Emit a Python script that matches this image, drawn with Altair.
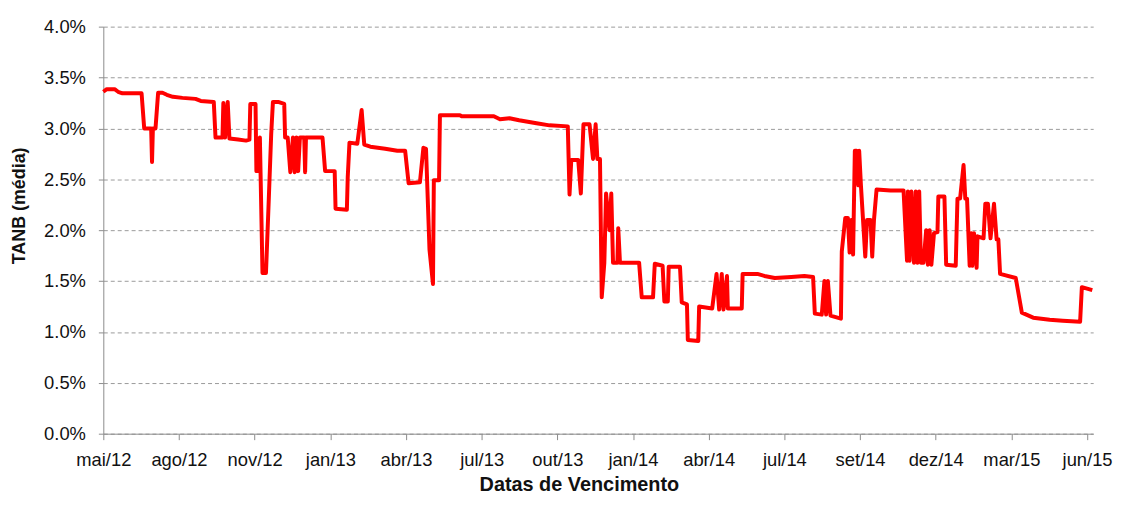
import altair as alt
import pandas as pd

# Data de referência e dias (desde a data de referência) de cada vencimento
data_inicio = "2012-05-12"
dias = [0, 4, 13, 17, 22, 44, 47, 55, 56, 57, 60, 63, 68, 73, 80, 91, 106, 112, 127, 129,
        137, 138, 140, 143, 145, 155, 164, 168, 169, 175, 176, 179, 180, 183, 187, 190, 193, 195, 201, 208,
        209, 212, 215, 218, 220, 222, 224, 226, 231, 232, 233, 252, 255, 266, 267, 280, 281, 283, 292, 297,
        300, 307, 324, 338, 347, 351, 364, 368, 371, 375, 379, 380, 386, 387, 410, 412, 449, 456, 467, 478,
        498, 513, 534, 536, 538, 546, 549, 552, 559, 563, 566, 568, 571, 573, 576, 578, 582, 584, 586, 591,
        592, 594, 610, 616, 619, 632, 634, 643, 645, 649, 650, 663, 665, 671, 672, 684, 685, 700, 705, 708,
        711, 713, 717, 718, 734, 735, 752, 760, 772, 791, 806, 816, 818, 826, 829, 831, 833, 836, 848, 849,
        853, 856, 858, 860, 862, 864, 866, 868, 869, 871, 876, 878, 882, 884, 886, 889, 905, 920, 924, 925,
        927, 929, 932, 934, 936, 938, 940, 943, 946, 948, 950, 952, 955, 959, 960, 967, 969, 980, 981, 982,
        985, 989, 991, 993, 996, 998, 999, 1001, 1004, 1005, 1012, 1014, 1017, 1020, 1024, 1027, 1029, 1031, 1049, 1056,
        1069, 1088, 1103, 1123, 1125, 1137]

# TANB média (%)
taxa = [3.36, 3.385, 3.385, 3.36, 3.345, 3.345, 3.0, 3.0, 2.67, 3.0, 3.0, 3.35, 3.35, 3.33, 3.31, 3.30, 3.29, 3.27, 3.26, 2.91,
        2.91, 3.25, 2.91, 3.26, 2.90, 2.89, 2.88, 2.89, 3.24, 3.24, 2.58, 2.58, 2.91, 1.58, 1.58, 2.25, 2.94, 3.26, 3.26, 3.24,
        2.91, 2.91, 2.57, 2.91, 2.57, 2.91, 2.58, 2.91, 2.91, 2.57, 2.91, 2.91, 2.58, 2.58, 2.21, 2.20, 2.52, 2.86, 2.85, 3.18,
        2.84, 2.82, 2.80, 2.78, 2.78, 2.46, 2.47, 2.81, 2.80, 1.81, 1.47, 2.49, 2.49, 3.13, 3.13, 3.12, 3.12, 3.09, 3.10, 3.08,
        3.05, 3.03, 3.02, 2.35, 2.69, 2.69, 2.36, 3.04, 3.04, 2.70, 3.04, 2.70, 2.70, 1.34, 1.68, 2.36, 2.00, 2.36, 1.68, 1.68,
        2.02, 1.68, 1.68, 1.68, 1.34, 1.34, 1.67, 1.65, 1.30, 1.30, 1.64, 1.64, 1.29, 1.27, 0.92, 0.91, 1.25, 1.23, 1.57, 1.22,
        1.57, 1.22, 1.55, 1.23, 1.23, 1.57, 1.57, 1.55, 1.53, 1.54, 1.55, 1.54, 1.18, 1.17, 1.50, 1.17, 1.50, 1.16, 1.13, 1.79,
        2.12, 2.12, 1.78, 2.10, 1.76, 2.78, 2.78, 2.44, 2.78, 2.44, 1.74, 2.10, 2.10, 1.74, 2.10, 2.40, 2.39, 2.39, 1.70, 2.38,
        1.70, 2.38, 1.68, 2.38, 1.68, 2.38, 1.68, 1.68, 2.00, 1.66, 2.00, 1.66, 1.97, 1.98, 2.33, 2.33, 1.66, 1.65, 1.99, 2.31,
        2.31, 2.64, 2.31, 2.31, 1.65, 1.97, 1.65, 1.97, 1.63, 1.94, 1.92, 2.26, 2.26, 1.92, 2.26, 1.91, 1.91, 1.57, 1.53, 1.19,
        1.14, 1.12, 1.11, 1.10, 1.44, 1.41]

assert len(dias) == len(taxa)

# Marcas do eixo X (datas) e nomes dos meses
ticks_x = ["2012-05-12", "2012-08-07", "2012-11-02", "2013-01-28", "2013-04-25", "2013-07-21",
           "2013-10-16", "2014-01-11", "2014-04-08", "2014-07-04", "2014-09-29", "2014-12-25",
           "2015-03-22", "2015-06-17"]
dominio_x = ["2012-05-12", "2015-06-24"]
ticks_y = [0.0, 0.5, 1.0, 1.5, 2.0, 2.5, 3.0, 3.5, 4.0]
meses_pt = ["jan", "fev", "mar", "abr", "mai", "jun", "jul", "ago", "set", "out", "nov", "dez"]


def to_dt(s):
    t = pd.Timestamp(s)
    return alt.DateTime(year=t.year, month=t.month, date=t.day)


datas = (pd.Timestamp(data_inicio) + pd.to_timedelta(dias, unit="D")).strftime("%Y-%m-%dT%H:%M:%S")
df = pd.DataFrame({"data": list(datas), "taxa": taxa})

meses_js = "[" + ",".join("'%s'" % m for m in meses_pt) + "]"
FONT = "Liberation Sans"

chart = (
    alt.Chart(df)
    .mark_line(color="#ff0000", strokeWidth=4, strokeJoin="round")
    .encode(
        x=alt.X(
            "data:T",
            scale=alt.Scale(domain=[to_dt(d) for d in dominio_x], nice=False),
            axis=alt.Axis(
                values=[to_dt(d) for d in ticks_x],
                labelExpr=meses_js + "[month(datum.value)] + '/' + timeFormat(datum.value, '%y')",
                title="Datas de Vencimento",
                grid=False,
                domainColor="#8c8c8c",
                tickColor="#8c8c8c",
                tickSize=6,
                labelFontSize=18.5,
                labelPadding=11,
                labelColor="#111111",
                labelOverlap=False,
                labelFlush=False,
                titleFontSize=20,
                titleFontWeight="bold",
                titleColor="#111111",
                titleX=479,
                titleY=57,
                titleAlign="center",
                titleBaseline="alphabetic",
            ),
        ),
        y=alt.Y(
            "taxa:Q",
            scale=alt.Scale(domain=[0, 4], nice=False),
            axis=alt.Axis(
                values=ticks_y,
                labelExpr="format(datum.value, '.1f') + '%'",
                title="TANB (média)",
                grid=True,
                gridColor="#9a9a9a",
                gridDash=[4, 3],
                gridWidth=1,
                domainColor="#8c8c8c",
                tickColor="#8c8c8c",
                tickSize=5,
                labelFontSize=18.5,
                labelPadding=13,
                labelColor="#111111",
                titleFontSize=18,
                titleFontWeight="bold",
                titleColor="#111111",
                titleX=-84,
                titleY=180,
                titleAlign="center",
                titleBaseline="middle",
            ),
        ),
    )
    .properties(
        width=997,
        height=410,
        autosize=alt.AutoSizeParams(type="none"),
        padding={"left": 96, "top": 17, "right": 23, "bottom": 62},
    )
    .configure(font=FONT)
    .configure_view(stroke=None)
)

chart.save("out.html", embed_options={"renderer": "svg", "actions": False})
